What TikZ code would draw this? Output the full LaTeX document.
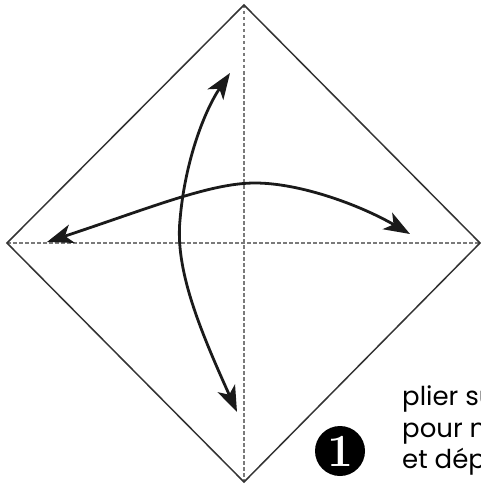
\documentclass[tikz,border=0pt]{standalone}
\usepackage{fontspec}
\newfontfamily\notefont{Poppins}
\usepackage{xcolor}
\usetikzlibrary{arrows.meta}
\definecolor{Fold_Gray}{HTML}{7A7A7A}
\definecolor{Paper_Edge}{HTML}{333333}
\definecolor{Arrow_Black}{HTML}{1A1A1A}

\begin{document}
\begin{tikzpicture}[x=1pt, y=-1pt,
  paperedge/.style={draw=Paper_Edge, line width=1.5pt, line join=miter},
  foldline/.style={draw=Fold_Gray, line width=1.5pt, dash pattern=on 3.5pt off 2.5pt},
  movearrow/.style={draw=Arrow_Black, line width=2.8pt, {Stealth[length=26pt,width=19pt,inset=7pt]}-{Stealth[length=26pt,width=19pt,inset=7pt]}},
  stepbadge/.style={circle, fill=black, text=white, inner sep=0pt, minimum size=50pt, font=\fontsize{46}{46}\selectfont\bfseries},
  noteline/.style={anchor=base west, inner sep=0pt, font=\notefont\fontsize{26}{30}\selectfont},
]
\useasboundingbox (0,0) rectangle (481,487);

% --- paper square on its corner ---
\coordinate (top) at (244,5);
\coordinate (right) at (480,243);
\coordinate (bottom) at (244,482);
\coordinate (left) at (7,243);

% --- fold lines ---
\draw[foldline] (top) -- (bottom);
\draw[foldline] (left) -- (right);
\draw[paperedge] (top) -- (right) -- (bottom) -- (left) -- cycle;

% --- fold and unfold arrows ---
\coordinate (tipW) at (47,242);
\coordinate (peak) at (255,183);
\coordinate (tipE) at (410,234);
\draw[movearrow] (tipW) .. controls (150,208) and (210,183) .. (peak)
  .. controls (300,183) and (360,205) .. (tipE);

\coordinate (tipS) at (237,412);
\coordinate (bend) at (180,220);
\coordinate (tipN) at (230,73);
\draw[movearrow] (tipS) .. controls (200,330) and (175,270) .. (bend)
  .. controls (185,160) and (205,110) .. (tipN);

% --- step number and note ---
\node[stepbadge] (badge) at (340,451) {1};
\node[noteline] (noteA) at (402,405) {plier su};
\node[noteline] (noteB) at (402,437) {pour n};
\node[noteline] (noteC) at (402,468) {et dép};

\end{tikzpicture}
\end{document}
